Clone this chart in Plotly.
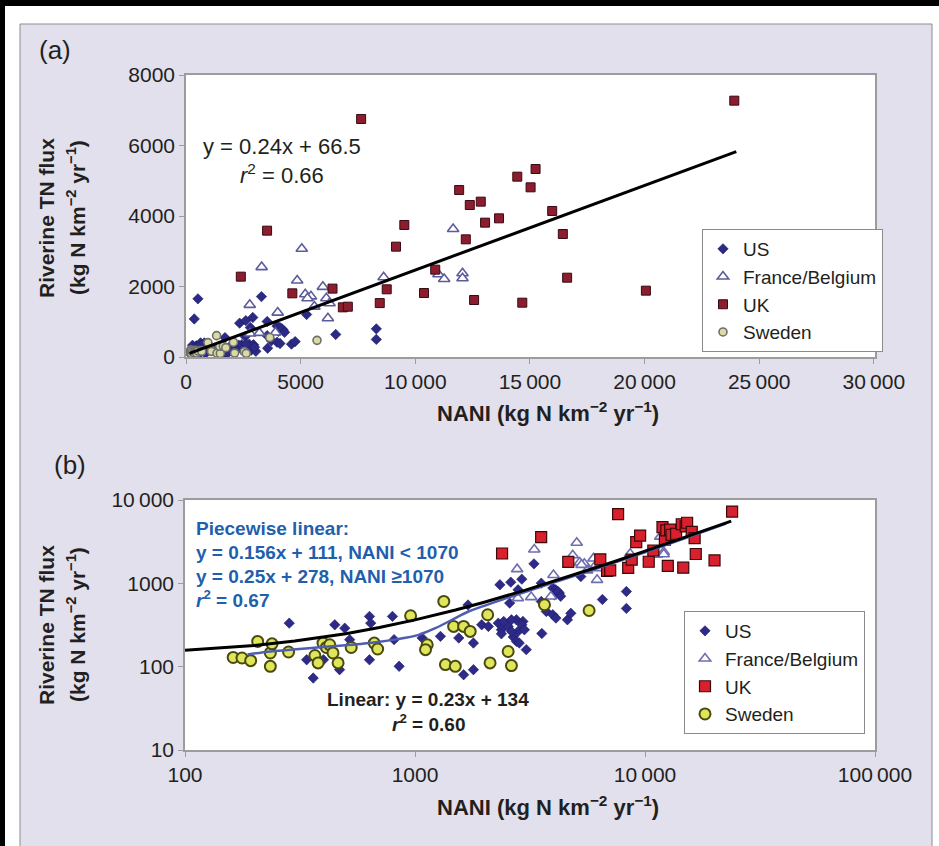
import plotly.graph_objects as go

FONT = "Liberation Sans, Arial, Helvetica, sans-serif"
W, H = 939, 846

# ---------------- data ----------------
US_X = [284, 338, 361, 400, 448, 470, 495, 520, 634, 642, 634, 798, 811, 853, 1074, 1290,
        1550, 1627, 1700, 1795, 1795, 1950, 2085, 2339, 2302, 2375, 2375, 2541, 2760, 2946,
        2806, 2675, 2760, 2840, 3046, 3560, 2609, 2913, 3290, 3540, 2580, 2806, 3540, 3972,
        4240, 4036, 4090, 3722, 3972, 4100, 4600, 4760, 5260, 6530, 8300, 8300,
        2913, 2990, 2626, 2430, 2626, 4180, 4300]
US_Y = [333, 121, 73, 121, 318, 92, 290, 211, 401, 333, 121, 401, 211, 101, 221, 231,
        221, 80, 550, 192, 92, 318, 304, 960, 333, 277, 248, 304, 365, 349,
        265, 227, 201, 192, 160, 250, 1033, 1122, 1714, 1005, 579, 836, 606, 877,
        763, 730, 836, 460, 420, 383, 365, 437, 1205, 640, 798, 500,
        318, 277, 265, 349, 365, 800, 700]
US_A_ONLY_X = [520, 360]
US_A_ONLY_Y = [1650, 1080]

FB_X = [2780, 3300, 2800, 3200, 3900, 4000, 4850, 5050, 5200, 5450, 5600, 5970, 6120, 6190,
        5300, 6260, 8620, 11010, 11260, 11650, 12060, 12060]
FB_Y = [1480, 2550, 665, 684, 695, 1260, 2170, 3070, 1780, 1720, 1430, 1990, 1665, 1100,
        1667, 1523, 2261, 2346, 2213, 3631, 2374, 2233]

UK_X = [2391, 3536, 4638, 6390, 6841, 7058, 7638, 8450, 8754, 9159, 9522, 10380, 10870, 11913,
        12203, 12377, 12565, 12855, 13043, 13652, 14449, 14667, 15029, 15246, 15971, 16435,
        16623, 20058, 23913]
UK_Y = [2279, 3584, 1806, 1940, 1409, 1427, 6752, 1530, 1920, 3130, 3745, 1815, 2478, 4738,
        3338, 4312, 1617, 4407, 3811, 3934, 5116, 1541, 4813, 5333, 4142, 3489,
        2250, 1882, 7272]

SE_X = [162, 177, 193, 207, 235, 235, 239, 282, 367, 379, 398, 412, 426, 440, 463, 528, 665,
        688, 957, 1130, 1111, 1334, 1356, 1497, 1472, 1627, 1738, 2070, 2120, 2541, 2626,
        3656, 5714]
SE_Y = [129, 127, 118, 201, 146, 101, 188, 150, 136, 111, 192, 170, 183, 146, 111, 170, 192,
        163, 408, 183, 160, 606, 106, 101, 304, 304, 265, 420, 111, 152, 103,
        553, 472]

FIT_A_X = [150, 24000]
FIT_A_Y = [103, 5827]

LIN_B_X = [100, 150, 200, 300, 500, 700, 1000, 1500, 2000, 3000, 5000, 7000, 10000, 15000,
           20000, 23700]
LIN_B_Y = [157, 168.5, 180, 203, 249, 295, 364, 479, 594, 824, 1284, 1744, 2434, 3584,
           4734, 5585]

PW_B_X = [187, 235, 400, 634, 1036, 1227, 1449, 1710, 2626, 5093, 10000, 22500]
PW_B_Y = [140, 152, 172, 192, 241, 290, 365, 459, 695, 1264, 2350, 5200]

A_X_TICKS = [0, 5000, 10000, 15000, 20000, 25000, 30000]
A_X_TEXT = ["0", "5000", "10\u2009000", "15\u2009000", "20\u2009000", "25\u2009000", "30\u2009000"]
A_Y_TICKS = [0, 2000, 4000, 6000, 8000]
A_Y_TEXT = ["0", "2000", "4000", "6000", "8000"]
B_X_TICKS = [100, 1000, 10000, 100000]
B_X_TEXT = ["100", "1000", "10\u2009000", "100\u2009000"]
B_Y_TICKS = [10, 100, 1000, 10000]
B_Y_TEXT = ["10", "100", "1000", "10\u2009000"]

COUNTRIES = ["US", "France/Belgium", "UK", "Sweden"]


def px(x):
    return x / W


def py(y):
    return 1 - y / H


fig = go.Figure()

# ---------------- panel (a) ----------------
sty_a = {
    "US": dict(symbol="diamond", size=8, color="#2b2a86", line=dict(color="#1c1b5e", width=0.6)),
    "France/Belgium": dict(symbol="triangle-up", size=10, color="white", line=dict(color="#5c5c9c", width=1.6)),
    "UK": dict(symbol="square", size=9, color="#8c1d2e", line=dict(color="#3a0a12", width=1)),
    "Sweden": dict(symbol="circle", size=8, color="#d9dba0", line=dict(color="#6e6e6e", width=1.6)),
}
data_a = {
    "US": (US_X + US_A_ONLY_X, US_Y + US_A_ONLY_Y),
    "France/Belgium": (FB_X, FB_Y),
    "UK": (UK_X, UK_Y),
    "Sweden": (SE_X, SE_Y),
}
for name in COUNTRIES:
    xs, ys = data_a[name]
    fig.add_trace(go.Scatter(x=xs, y=ys, mode="markers", name=name, marker=sty_a[name],
                             xaxis="x", yaxis="y", legend="legend", legendgroup="a" + name))
fig.add_trace(go.Scatter(x=FIT_A_X, y=FIT_A_Y, mode="lines", line=dict(color="black", width=3),
                         xaxis="x", yaxis="y", showlegend=False))

# ---------------- panel (b) ----------------
sty_b = {
    "US": dict(symbol="diamond", size=8, color="#2e2a8a", line=dict(color="#1c1a60", width=0.6)),
    "France/Belgium": dict(symbol="triangle-up", size=10, color="white", line=dict(color="#6e6eb0", width=1.6)),
    "UK": dict(symbol="square", size=11, color="#d8202e", line=dict(color="#3c0808", width=1.2)),
    "Sweden": dict(symbol="circle", size=11, color="#dfe65a", line=dict(color="#4a4a10", width=2)),
}
data_b = {
    "US": (US_X, US_Y),
    "France/Belgium": (FB_X, FB_Y),
    "UK": (UK_X, UK_Y),
    "Sweden": (SE_X, SE_Y),
}
for name in COUNTRIES:
    xs, ys = data_b[name]
    fig.add_trace(go.Scatter(x=xs, y=ys, mode="markers", name=name, marker=sty_b[name],
                             xaxis="x2", yaxis="y2", legend="legend2", legendgroup="b" + name))
fig.add_trace(go.Scatter(x=PW_B_X, y=PW_B_Y, mode="lines",
                         line=dict(color="#4f5db0", width=2.5, shape="spline", smoothing=0.8),
                         xaxis="x2", yaxis="y2", showlegend=False))
fig.add_trace(go.Scatter(x=LIN_B_X, y=LIN_B_Y, mode="lines", line=dict(color="black", width=3),
                         xaxis="x2", yaxis="y2", showlegend=False))

axis_common = dict(showline=True, linecolor="#9c9c9c", linewidth=1.5, mirror=True,
                   ticks="outside", ticklen=5, tickcolor="#9c9c9c", showgrid=False,
                   zeroline=False, automargin=False,
                   tickfont=dict(family=FONT, size=21, color="#231f20"))

fig.update_layout(
    width=W, height=H, autosize=False,
    margin=dict(l=0, r=0, t=0, b=0, pad=0, autoexpand=False),
    paper_bgcolor="white", plot_bgcolor="white",
    font=dict(family=FONT, color="#231f20"),
    xaxis=dict(domain=[px(186), px(875)], range=[0, 30050], tickvals=A_X_TICKS,
               ticktext=A_X_TEXT, anchor="y", **axis_common),
    yaxis=dict(domain=[py(357), py(75)], range=[0, 8000], tickvals=A_Y_TICKS,
               ticktext=A_Y_TEXT, anchor="x", **axis_common),
    xaxis2=dict(domain=[px(185), px(875)], type="log", range=[2, 5], tickvals=B_X_TICKS,
                ticktext=B_X_TEXT, anchor="y2", **axis_common),
    yaxis2=dict(domain=[py(750), py(500)], type="log", range=[1, 4], tickvals=B_Y_TICKS,
                ticktext=B_Y_TEXT, anchor="x2", **axis_common),
    legend=dict(x=px(702), y=py(229), xanchor="left", yanchor="top", bgcolor="white",
                bordercolor="#8a8a8a", borderwidth=1, tracegroupgap=0,
                font=dict(family=FONT, size=19, color="#231f20")),
    legend2=dict(x=px(684), y=py(611), xanchor="left", yanchor="top", bgcolor="white",
                 bordercolor="#8a8a8a", borderwidth=1, tracegroupgap=0,
                 font=dict(family=FONT, size=19, color="#231f20")),
)

shapes = [
    dict(type="rect", xref="paper", yref="paper", x0=px(20), x1=px(932), y0=-0.01, y1=py(24),
         fillcolor="#e1e0ec", line=dict(color="#8c8c8c", width=1), layer="below"),
    dict(type="rect", xref="paper", yref="paper", x0=0, x1=1, y0=py(6), y1=1,
         fillcolor="black", line=dict(width=0), layer="below"),
    dict(type="rect", xref="paper", yref="paper", x0=0, x1=px(5), y0=0, y1=1,
         fillcolor="black", line=dict(width=0), layer="below"),
    dict(type="rect", xref="paper", yref="paper", x0=px(186), x1=px(875), y0=py(357), y1=py(75),
         fillcolor="white", line=dict(width=0), layer="below"),
    dict(type="rect", xref="paper", yref="paper", x0=px(185), x1=px(875), y0=py(750), y1=py(500),
         fillcolor="white", line=dict(width=0), layer="below"),
]
fig.update_layout(shapes=shapes)

unit = "(kg N km<sup>\u22122</sup> yr<sup>\u22121</sup>)"
ann = []


def add(text, x, y, size, bold=False, color="#231f20", xanchor="center", angle=0):
    t = "<b>%s</b>" % text if bold else text
    ann.append(dict(text=t, x=px(x), y=py(y), xref="paper", yref="paper", showarrow=False,
                    xanchor=xanchor, yanchor="middle", textangle=angle,
                    font=dict(family=FONT, size=size, color=color)))


add("(a)", 55, 50, 26)
add("(b)", 70, 465, 26)
add("Riverine TN flux", 46, 218, 21, bold=True, angle=-90)
add(unit, 76, 218, 21, bold=True, angle=-90)
add("Riverine TN flux", 46, 625, 21, bold=True, angle=-90)
add(unit, 76, 625, 21, bold=True, angle=-90)
add("NANI " + unit, 548, 412, 22, bold=True)
add("NANI " + unit, 548, 806, 22, bold=True)
add("y = 0.24x + 66.5", 282, 147, 22)
add("<i>r</i><sup>2</sup> = 0.66", 282, 174, 22)
BLUE = "#1f5fae"
add("Piecewise linear:", 194, 528, 19, bold=True, color=BLUE, xanchor="left")
add("y = 0.156x + 111, NANI < 1070", 194, 552, 19, bold=True, color=BLUE, xanchor="left")
add("y = 0.25x + 278, NANI \u22651070", 194, 576, 19, bold=True, color=BLUE, xanchor="left")
add("<i>r</i><sup>2</sup> = 0.67", 194, 599, 19, bold=True, color=BLUE, xanchor="left")
add("Linear: y = 0.23x + 134", 428, 699, 19, bold=True)
add("<i>r</i><sup>2</sup> = 0.60", 428, 723, 19, bold=True)
fig.update_layout(annotations=ann)

fig.write_html("out.html", config={"displayModeBar": False},
               post_script="document.body.style.margin='0';document.body.style.overflow='hidden';")
